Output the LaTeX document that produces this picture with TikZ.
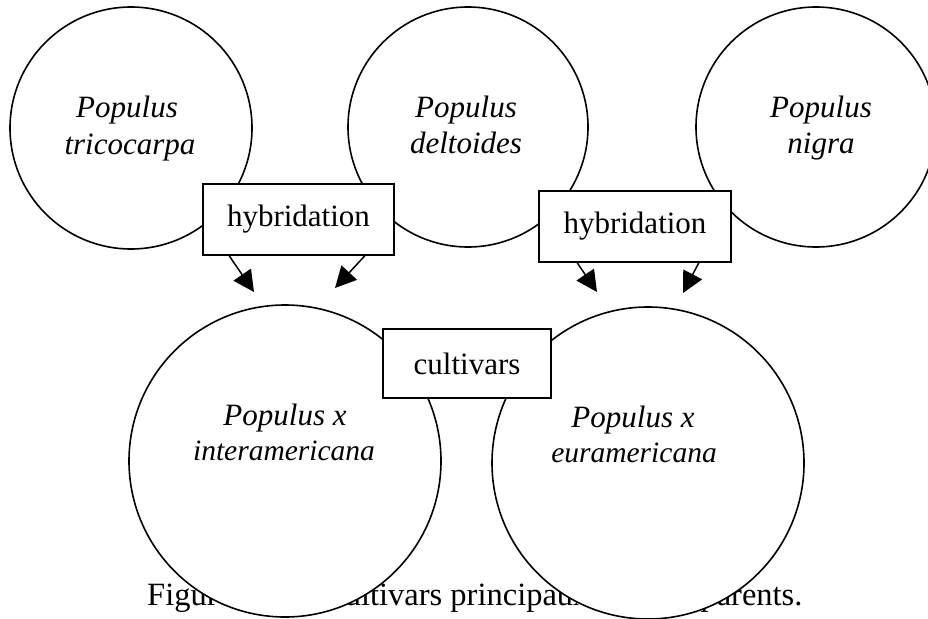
\documentclass[tikz,border=0pt]{standalone}
\usepackage{fontspec}
\setmainfont{Liberation Serif}
\usetikzlibrary{arrows.meta}
\begin{document}
\begin{tikzpicture}[x=1pt,y=-1pt,
  ring/.style={circle,draw=black,fill=white,line width=1.6pt,inner sep=0pt},
  sbox/.style={rectangle,draw=black,fill=white,line width=1.6pt,inner sep=0pt,
    font=\fontsize{31}{37}\selectfont},
  lab/.style={anchor=base,inner sep=0pt,font=\fontsize{31}{37}\selectfont\itshape},
  labs/.style={anchor=base,inner sep=0pt,font=\fontsize{29.5}{35}\selectfont\itshape},
  arr/.style={line width=1.5pt,-{Triangle[length=21pt,width=21pt]}}]
\useasboundingbox (0,0) rectangle (928,618);
\clip (0,0) rectangle (928,618);
% caption (partly hidden behind the lower circles)
\node[anchor=base west,inner sep=0pt,font=\fontsize{32.5}{38}\selectfont] (cap) at (147,605)
  {Figure 1. Les cultivars principaux et leurs parents.};
% circles
\node[ring,minimum size=242pt] (c1) at (131,128) {};
\node[ring,minimum size=240pt] (c2) at (468,127) {};
\node[ring,minimum size=240pt] (c3) at (816,127) {};
\node[ring,minimum size=312pt] (c4) at (285,461) {};
\node[ring,minimum size=312pt] (c5) at (648,463) {};
% labels
\node[lab] (t1a) at (127,117) {Populus};
\node[lab] (t1b) at (130,154) {tricocarpa};
\node[lab] (t2a) at (466,117) {Populus};
\node[lab] (t2b) at (466,153) {deltoides};
\node[lab] (t3a) at (821,117) {Populus};
\node[lab] (t3b) at (821,153) {nigra};
\node[lab] (t4a) at (285,425) {Populus x};
\node[labs] (t4b) at (284,460) {interamericana};
\node[lab] (t5a) at (633,427) {Populus x};
\node[labs] (t5b) at (634,462) {euramericana};
% boxes
\node[sbox,minimum width=191pt,minimum height=71pt] (h1) at (298.5,219.5) {hybridation};
\node[sbox,minimum width=192pt,minimum height=71pt] (h2) at (635,226.5) {hybridation};
\node[sbox,minimum width=168pt,minimum height=69pt] (cv) at (467,363.5) {cultivars};
% arrow tips
\coordinate (p1) at (254,292);
\coordinate (p2) at (335,288);
\coordinate (p3) at (597,292);
\coordinate (p4) at (683,293);
\draw[arr] ([xshift=27pt]h1.south west) -- (p1);
\draw[arr] ([xshift=-30pt]h1.south east) -- (p2);
\draw[arr] ([xshift=39pt]h2.south west) -- (p3);
\draw[arr] ([xshift=-33pt]h2.south east) -- (p4);
\end{tikzpicture}
\end{document}
